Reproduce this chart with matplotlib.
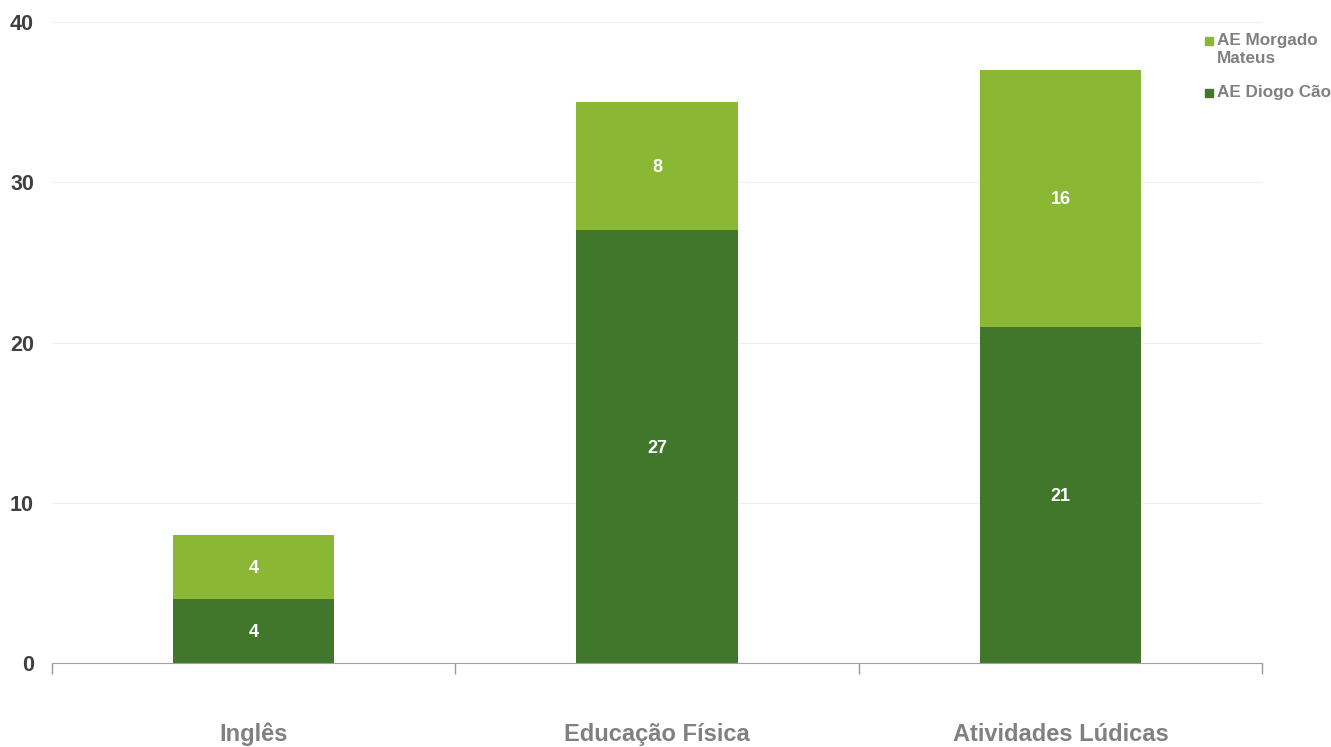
import matplotlib.pyplot as plt
import numpy as np

plt.rcParams['font.family'] = ['Liberation Sans', 'DejaVu Sans']

categories = ['Inglês', 'Educação Física', 'Atividades Lúdicas']
diogo_cao = [4, 27, 21]
morgado_mateus = [4, 8, 16]
series_names = ['AE Diogo Cão', 'AE Morgado\nMateus']
y_ticks = [0, 10, 20, 30, 40]

dark = '#41772b'
light = '#8bb834'

fig = plt.figure(figsize=(13.31, 7.47), dpi=100)
ax = fig.add_axes([0.0391, 0.1124, 0.9091, 0.8581])

x = np.arange(len(categories))
b1 = ax.bar(x, diogo_cao, width=0.4, color=dark, zorder=2)
b2 = ax.bar(x, morgado_mateus, width=0.4, bottom=diogo_cao, color=light, zorder=2)

for bars in (b1, b2):
    for r in bars:
        h = r.get_height()
        ax.text(r.get_x() + r.get_width() / 2, r.get_y() + h / 2 - 0.1, str(int(h)),
                ha='center', va='center', color='white', fontsize=13, fontweight='bold')

ax.set_xlim(-0.5, 2.5)
ax.set_ylim(0, 40)
ax.set_yticks(y_ticks)
ax.set_yticklabels([str(t) for t in y_ticks], fontsize=15.5, fontweight='bold', color='#404040')
ax.tick_params(axis='y', length=0, pad=13)
ax.grid(axis='y', color='#efefef', linewidth=0.8, zorder=0)

ax.set_xticks([-0.5, 0.5, 1.5, 2.5])
ax.set_xticklabels([])
ax.tick_params(axis='x', length=8, color='#999999', width=1)
for i, c in enumerate(categories):
    ax.text(i, -4.45, c, ha='center', va='center', fontsize=17, fontweight='bold', color='#808080')

for s in ['top', 'right', 'left']:
    ax.spines[s].set_visible(False)
ax.spines['bottom'].set_color('#a0a0a0')
ax.spines['bottom'].set_zorder(3)

# legend drawn by hand in figure coords
fig.patches.append(plt.Rectangle((1205 / 1331, 1 - 45 / 747), 8 / 1331, 8 / 747,
                                  transform=fig.transFigure, color=light))
fig.text(1217 / 1331, 1 - 33 / 747, series_names[1], fontsize=12.3, fontweight='bold',
         color='#808080', va='top', ha='left', linespacing=1.25)
fig.patches.append(plt.Rectangle((1205 / 1331, 1 - 97 / 747), 8 / 1331, 8 / 747,
                                  transform=fig.transFigure, color=dark))
fig.text(1217 / 1331, 1 - 93 / 747, series_names[0], fontsize=12.3, fontweight='bold',
         color='#808080', va='center', ha='left')

fig.savefig('out.png', dpi=100)
